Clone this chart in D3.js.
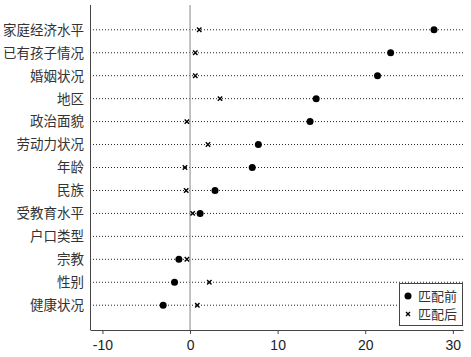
<!DOCTYPE html>
<html>
<head>
<meta charset="utf-8">
<script src="https://cdn.jsdelivr.net/npm/d3@7"></script>
<style>
  body { margin: 0; background: #fff; }
  svg { display: block; }
</style>
</head>
<body>
<div id="chart"></div>
<script>
// variables, top to bottom
var categories = ['家庭经济水平', '已有孩子情况', '婚姻状况', '地区', '政治面貌', '劳动力状况',
                  '年龄', '民族', '受教育水平', '户口类型', '宗教', '性别', '健康状况'];
// standardised bias before matching (dots)
var before = [27.85, 22.9, 21.4, 14.4, 13.7, 7.8, 7.1, 2.85, 1.15, null, -1.27, -1.77, -3.07];
// after matching (crosses)
var after = [1.05, 0.6, 0.6, 3.42, -0.36, 2.05, -0.58, -0.44, 0.3, null, -0.36, 2.2, 0.83];
var ticks = [-10, 0, 10, 20, 30];
var legendLabels = ['匹配前', '匹配后'];

var width = 471, height = 357;
// plot edges (note: "top" is reserved on window)
var plotLeft = 90, plotRight = 463, plotTop = 5, plotBottom = 330;

var svg = d3.select('#chart').append('svg')
    .attr('width', width)
    .attr('height', height);

var xScale = d3.scaleLinear()
    .domain([-11.42, 31.16])
    .range([plotLeft, plotRight]);

var yScale = d3.scalePoint()
    .domain(categories)
    .range([plotTop, plotBottom])
    .padding(1.08);

var labelFont = '"Noto Sans CJK SC", sans-serif';

// dotted row guides
svg.selectAll('line.guide')
    .data(categories)
    .enter()
    .append('line')
    .attr('class', 'guide')
    .attr('x1', plotLeft)
    .attr('x2', plotRight)
    .attr('y1', d => yScale(d))
    .attr('y2', d => yScale(d))
    .attr('stroke', '#222')
    .attr('stroke-width', 1)
    .attr('stroke-dasharray', '1,2');

// zero reference line
svg.append('line')
    .attr('x1', xScale(0))
    .attr('x2', xScale(0))
    .attr('y1', plotTop)
    .attr('y2', plotBottom)
    .attr('stroke', '#999')
    .attr('stroke-width', 1.2);

// y labels
svg.selectAll('text.cat')
    .data(categories)
    .enter()
    .append('text')
    .attr('class', 'cat')
    .attr('x', plotLeft - 6)
    .attr('y', d => yScale(d))
    .attr('dy', '0.36em')
    .attr('text-anchor', 'end')
    .style('font-family', labelFont)
    .style('font-size', '13.5px')
    .style('fill', '#333')
    .text(d => d);

// left axis line
svg.append('line')
    .attr('x1', plotLeft + 0.5).attr('x2', plotLeft + 0.5)
    .attr('y1', plotTop).attr('y2', plotBottom)
    .attr('stroke', '#444');

// bottom axis
var xAxis = d3.axisBottom(xScale)
    .tickValues(ticks)
    .tickSize(4)
    .tickSizeOuter(0)
    .tickFormat(d => String(d));

var gx = svg.append('g')
    .attr('transform', 'translate(0,' + plotBottom + ')')
    .call(xAxis);
gx.select('.domain').attr('stroke', '#444');
gx.selectAll('.tick line').attr('stroke', '#444');
gx.selectAll('.tick text')
    .attr('dy', '0.95em')
    .style('font-family', '"Liberation Sans", Arial, sans-serif')
    .style('font-size', '14px')
    .style('fill', '#222');

var rows = categories.map((c, i) => ({cat: c, before: before[i], after: after[i]}));

// crosses (after matching)
function crossPath(cx, cy, s) {
    return 'M' + (cx - s) + ',' + (cy - s) + 'L' + (cx + s) + ',' + (cy + s) +
           'M' + (cx - s) + ',' + (cy + s) + 'L' + (cx + s) + ',' + (cy - s);
}

svg.selectAll('path.after')
    .data(rows.filter(d => d.after != null))
    .enter()
    .append('path')
    .attr('class', 'after')
    .attr('d', d => crossPath(xScale(d.after), yScale(d.cat), 2.2))
    .attr('stroke', '#000')
    .attr('stroke-width', 1.4)
    .attr('fill', 'none');

// dots (before matching)
svg.selectAll('circle.before')
    .data(rows.filter(d => d.before != null))
    .enter()
    .append('circle')
    .attr('class', 'before')
    .attr('cx', d => xScale(d.before))
    .attr('cy', d => yScale(d.cat))
    .attr('r', 3.5)
    .attr('fill', '#000');

// legend
var lg = svg.append('g').attr('transform', 'translate(399,283)');
lg.append('rect')
    .attr('x', 0.5).attr('y', 0.5)
    .attr('width', 63).attr('height', 42)
    .attr('fill', '#fff')
    .attr('stroke', '#444');
lg.append('circle')
    .attr('cx', 9).attr('cy', 13)
    .attr('r', 3.5)
    .attr('fill', '#000');
lg.append('path')
    .attr('d', crossPath(9, 31, 2))
    .attr('stroke', '#000')
    .attr('stroke-width', 1.4);
lg.selectAll('text')
    .data(legendLabels)
    .enter()
    .append('text')
    .attr('x', 19)
    .attr('y', (d, i) => 13 + i * 18)
    .attr('dy', '0.36em')
    .style('font-family', labelFont)
    .style('font-size', '13px')
    .style('fill', '#333')
    .text(d => d);
</script>
</body>
</html>
